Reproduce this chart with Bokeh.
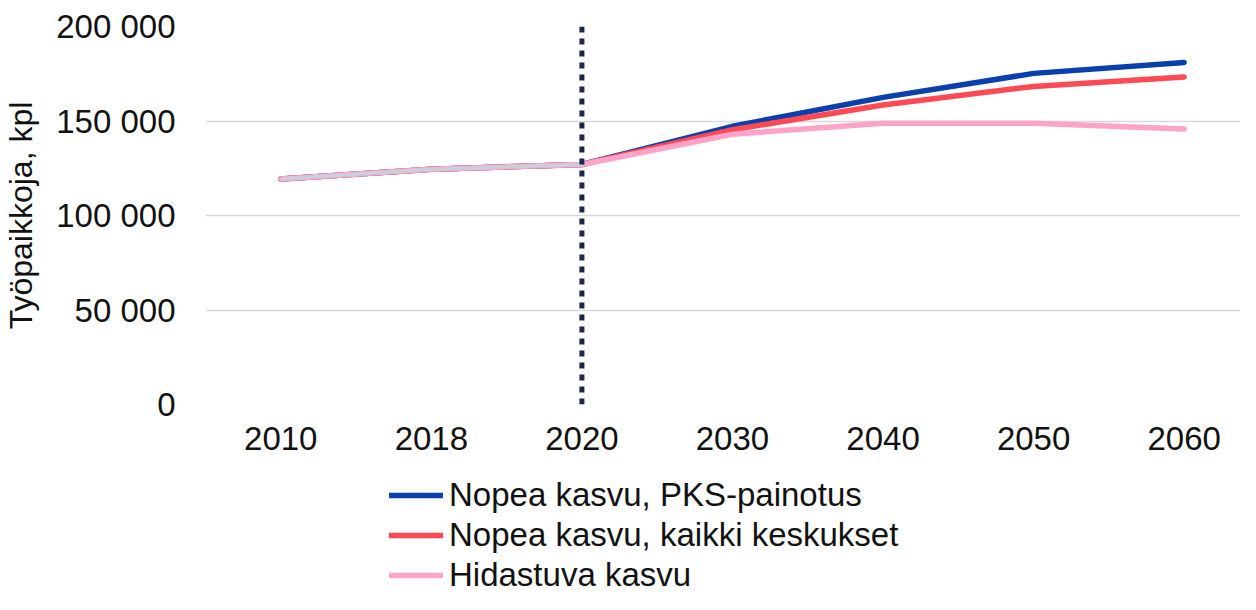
from bokeh.plotting import figure
from bokeh.layouts import column
from bokeh.models import Range1d, FixedTicker, Legend, LegendItem, Span, CustomJSTickFormatter
from bokeh.embed import file_html
from bokeh.resources import INLINE

years = ["2010", "2018", "2020", "2030", "2040", "2050", "2060"]
historical = [119300, 124500, 127000]
pks = [119300, 124500, 127000, 147200, 162500, 175200, 181000]
kaikki = [119300, 124500, 127000, 145400, 158500, 168300, 173300]
hidastuva = [119300, 124500, 127000, 143000, 148800, 148800, 145800]
y_ticks = [0, 50000, 100000, 150000, 200000]
series_names = ["Nopea kasvu, PKS-painotus", "Nopea kasvu, kaikki keskukset", "Hidastuva kasvu"]
colors = ["#0a40ad", "#ff4a55", "#ffa3c8"]
marker_year = "2020"

xs = list(range(len(years)))
FONT = "Liberation Sans"

p = figure(width=1240, height=465, output_backend="svg", toolbar_location=None,
           x_range=Range1d(-0.5, 6.374), y_range=Range1d(0, 200000),
           min_border_left=202, min_border_right=0, min_border_top=26, min_border_bottom=61)
p.outline_line_color = None
p.background_fill_color = "white"
p.border_fill_color = "white"

p.xgrid.grid_line_color = None
p.ygrid.grid_line_color = "#d9d9d9"
p.ygrid.grid_line_width = 1.5
p.yaxis.ticker = FixedTicker(ticks=y_ticks)
p.ygrid.ticker = FixedTicker(ticks=y_ticks)
p.xaxis.ticker = FixedTicker(ticks=xs)
p.xaxis.major_label_overrides = {i: y for i, y in enumerate(years)}
p.yaxis.formatter = CustomJSTickFormatter(code="return tick.toFixed(0).replace(/\\B(?=(\\d{3})+(?!\\d))/g, ' ');")

for ax in (p.xaxis[0], p.yaxis[0]):
    ax.axis_line_color = None
    ax.major_tick_line_color = None
    ax.minor_tick_line_color = None
    ax.major_tick_out = 0
    ax.major_tick_in = 0
    ax.minor_tick_out = 0
    ax.major_label_text_font = FONT
    ax.major_label_text_font_size = "33px"
    ax.major_label_text_color = "#111111"
p.xaxis.major_label_standoff = 22
p.yaxis.major_label_standoff = 30
p.yaxis.axis_label = "Työpaikkoja, kpl"
p.yaxis.axis_label_text_font = FONT
p.yaxis.axis_label_text_font_size = "32px"
p.yaxis.axis_label_text_font_style = "normal"
p.yaxis.axis_label_text_color = "#111111"
p.yaxis.axis_label_standoff = 14

for vals, c in zip([pks, kaikki, hidastuva], colors):
    p.line(xs, vals, line_color=c, line_width=5.5, line_cap="round", line_join="round")

p.line(xs[:len(historical)], historical, line_color="#c8d1db", line_width=3.5, line_join="round")

p.add_layout(Span(location=years.index(marker_year), dimension="height", line_color="#1b2746",
                  line_width=5, line_dash="6 6"))

# legend panel below the chart (its lines lie outside its visible range; only the legend shows)
lg = figure(width=1240, height=129, output_backend="svg", toolbar_location=None,
            x_range=Range1d(-0.5, 6.374), y_range=Range1d(-3, -2), x_axis_type=None, y_axis_type=None,
            min_border_left=202, min_border_right=0, min_border_top=0, min_border_bottom=0)
lg.outline_line_color = None
lg.grid.grid_line_color = None
legend_lines = [lg.line(xs, vals, line_color=c, line_width=5.5, line_cap="round")
                for vals, c in zip([pks, kaikki, hidastuva], colors)]
legend = Legend(items=[LegendItem(label=n, renderers=[r]) for n, r in zip(series_names, legend_lines)],
                location=(184, 0), orientation="vertical",
                label_text_font=FONT, label_text_font_size="33px", label_text_color="#111111",
                glyph_width=54, glyph_height=34, label_height=34, label_standoff=6,
                spacing=2, padding=0, margin=0, border_line_color=None, background_fill_alpha=0)
lg.add_layout(legend, "center")

layout = column(p, lg, spacing=0)
open("out.html", "w").write(file_html(layout, INLINE))
